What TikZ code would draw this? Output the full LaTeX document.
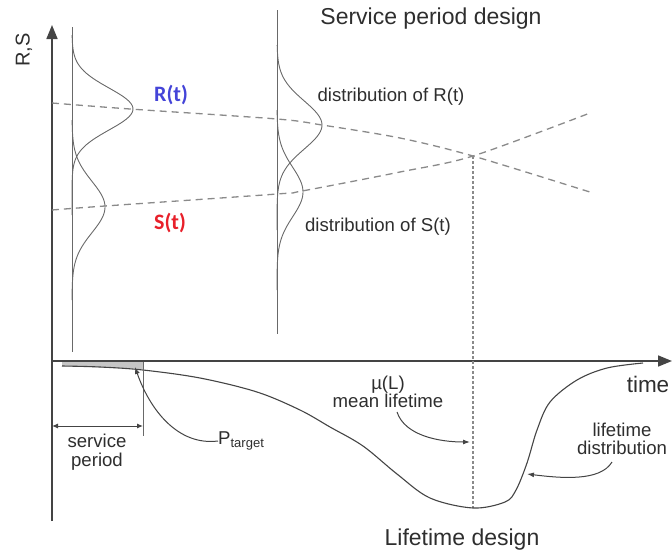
\documentclass[tikz,border=0pt]{standalone}
\usepackage{fontspec}
\setmainfont{Liberation Sans}
\newfontfamily\calib{Carlito}
\usetikzlibrary{arrows.meta}
\definecolor{ink}{HTML}{2E2E2E}
\definecolor{axisc}{HTML}{444444}
\definecolor{dashc}{HTML}{8A8A8A}
\definecolor{rblue}{HTML}{4444D8}
\definecolor{sred}{HTML}{E8202A}
\tikzset{
  axisline/.style={draw=axisc, line width=1.6pt, -{Triangle[length=14pt,width=11pt]}},
  distline/.style={draw=axisc!80, line width=0.9pt},
  trend/.style={draw=dashc, line width=1.3pt, dash pattern=on 7pt off 5pt},
  curveline/.style={draw=axisc, line width=1.1pt},
  pointer/.style={draw=axisc, line width=1pt, -{Latex[length=7pt,width=5pt]}},
  lbl/.style={text=ink, font=\fontsize{18.6}{18.6}\selectfont, inner sep=0pt, align=center},
  title/.style={text=ink, font=\fontsize{23}{24}\selectfont, inner sep=0pt},
}
\begin{document}
\begin{tikzpicture}[x=1pt,y=-1pt]
\useasboundingbox (0,0) rectangle (672,555);
% gray wedge
\fill[gray!45] (62,362) -- (143,362) -- (143,369) -- (62,366) -- cycle;
% axes
\coordinate (org) at (52,361);
\coordinate (ytop) at (52,25);
\coordinate (xend) at (672,361);
\coordinate (ybot) at (52,521);
\draw[axisline] (ybot) -- (ytop);
\draw[axisline] (org) -- (xend);
% distribution axes
\draw[distline] (72,27) -- (72,352);
\draw[distline] (277,10) -- (277,334);
% bell curves at first axis
\draw[distline] plot[domain=35:215, samples=80, variable=\t, smooth] ({72+61*exp(-((\t-109)/21)*((\t-109)/21)/2)}, \t);
\draw[distline] plot[domain=120:300, samples=80, variable=\t, smooth] ({72+33*exp(-((\t-207)/25.6)*((\t-207)/25.6)/2)}, \t);
% bell curves at second axis
\draw[distline] plot[domain=45:230, samples=80, variable=\t, smooth] ({277+45*exp(-((\t-125)/24)*((\t-125)/24)/2)}, \t);
\draw[distline] plot[domain=110:290, samples=80, variable=\t, smooth] ({277+26*exp(-((\t-192)/24.6)*((\t-192)/24.6)/2)}, \t);
% trend lines
\coordinate (cross) at (473,156);
\draw[trend] plot[smooth] coordinates {(52,103) (130,109) (277,119) (322,125) (400,138) (473,156) (593,193)};
\draw[trend] plot[smooth] coordinates {(52,210) (105,206) (277,194) (302,191) (400,172) (473,156) (590,113)};
\coordinate (vbot) at (473,508);
\draw[draw=dashc, line width=1.2pt, dash pattern=on 2.5pt off 2.5pt] (cross) -- (vbot);
% lifetime distribution curve
\draw[curveline] plot[smooth, tension=0.55] coordinates {(62,366) (100,367) (143,370) (200,378) (257,392) (300,410) (330,427) (363,446) (397,474) (430,498) (473,508) (505,502) (516,490) (527,463) (537,430) (550,402) (577,380) (607,368) (643,363)};
% service period dimension
\coordinate (sp1) at (52,426);
\coordinate (sp2) at (143,426);
\coordinate (tk1) at (143,362);
\coordinate (tk2) at (143,436);
\draw[draw=axisc!80, line width=1pt] (tk1) -- (tk2);
\draw[draw=axisc, line width=1pt, {Latex[length=6pt,width=5pt]}-{Latex[length=6pt,width=5pt]}] (sp1) -- (sp2);
% labels
\node[title] (ttl1) at (431,19) {Service period design};
\node[title] (ttl2) at (462,540) {Lifetime design};
\node[title, font=\fontsize{22.5}{24}\selectfont] (time) at (648,384) {time};
\node[lbl, font=\fontsize{20}{20}\selectfont, rotate=90] (rs) at (24,50) {R,S};
\node[inner sep=0pt, text=rblue, font=\calib\bfseries\fontsize{22}{22}\selectfont] (rt) at (171,95) {R(t)};
\node[inner sep=0pt, text=sred, font=\calib\bfseries\fontsize{22}{22}\selectfont] (st) at (170,223) {S(t)};
\node[lbl] (dr) at (391,97) {distribution of R(t)};
\node[lbl] (ds) at (378,227) {distribution of S(t)};
\node[lbl, font=\fontsize{18.6}{19}\selectfont] (svc) at (97,452) {service\\period};
\node[lbl, anchor=west] (pt) at (218,441) {P\textsubscript{target}};
\node[lbl, font=\fontsize{18.6}{18}\selectfont] (mu) at (388,392) {\textmu(L)\\mean lifetime};
\node[lbl, font=\fontsize{18.6}{18}\selectfont] (ld) at (622,439) {lifetime\\distribution};
% pointers
\coordinate (ptip) at (135,367);
\coordinate (mutip) at (470,442);
\coordinate (ldtip) at (527,474);
\draw[pointer] (pt.west) .. controls (178,446) and (150,410) .. (ptip);
\draw[pointer] (397,412) .. controls (405,436) and (440,442) .. (mutip);
\draw[pointer] (612,462) .. controls (600,482) and (560,478) .. (ldtip);
\end{tikzpicture}
\end{document}
